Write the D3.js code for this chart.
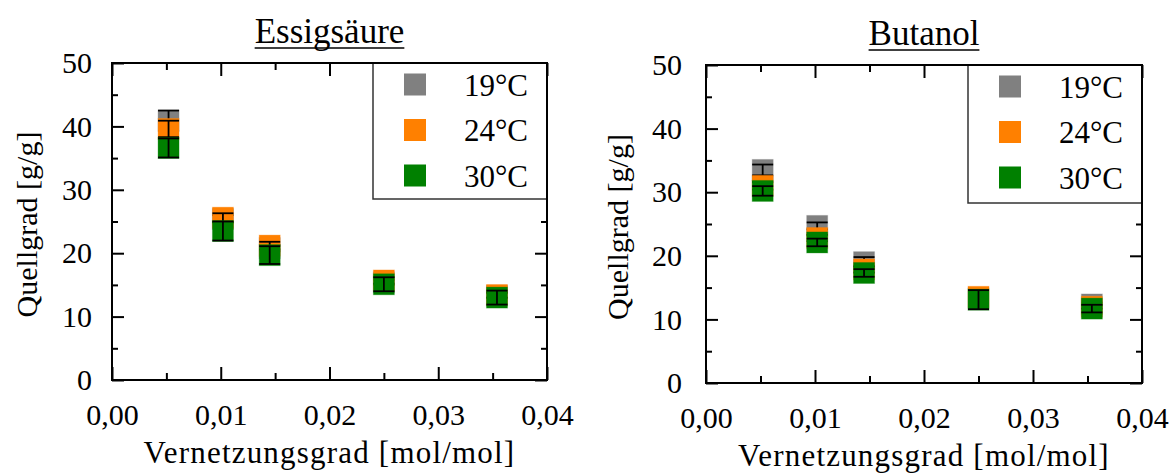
<!DOCTYPE html>
<html lang="de">
<head>
<meta charset="UTF-8">
<title>Quellgrad vs. Vernetzungsgrad</title>
<script src="https://d3js.org/d3.v7.min.js"></script>
<style>
  body { margin: 0; background: #fff; }
  svg, svg text { font-family: "Liberation Serif", "Times New Roman", serif; }
  svg { display: block; }
</style>
</head>
<body>
<svg width="1171" height="473"></svg>
<script>
// crosslink degree per sample (same for both solvents)
const xValues = [0.0052, 0.0102, 0.0145, 0.0250, 0.0354];
const temps = ["19°C", "24°C", "30°C"];
const tempColors = ["#808080", "#ff8000", "#008000"];

// Essigsäure: mean swelling degree [g/g] and error
const essig19 = [40.9, 25.4, 20.8, 15.4, 13.3];
const essig24 = [39.6, 25.6, 21.2, 15.7, 13.4];
const essig30 = [36.6, 23.5, 19.7, 15.1, 13.0];
const essigErr19 = [1.6, 0.6, 0.5, 0.4, 0.4];
const essigErr24 = [1.3, 0.7, 0.6, 0.5, 0.4];
const essigErr30 = [1.5, 1.5, 1.4, 1.1, 1.1];

// Butanol
const butanol19 = [33.5, 24.7, 19.0, 13.3, 12.35];
const butanol24 = [31.0, 22.8, 17.85, 13.55, 12.0];
const butanol30 = [30.2, 22.1, 17.3, 13.1, 11.7];
const butanolErr19 = [0.85, 0.55, 0.8, 0.3, 0.3];
const butanolErr24 = [0.6, 0.5, 0.5, 0.3, 0.3];
const butanolErr30 = [0.75, 0.6, 0.6, 1.5, 0.6];

const yTicks = [0, 10, 20, 30, 40, 50];
const yMinor = [5, 15, 25, 35, 45];
const xTicks = [0, 0.01, 0.02, 0.03, 0.04];
const xMinor = [0.005, 0.015, 0.025, 0.035];

const svg = d3.select("svg");
const fmtX = d => d3.format(".2f")(d).replace(".", ",");
const serif = "'Liberation Serif', 'Times New Roman', serif";

function drawPanel(cfg) {
  const x = d3.scaleLinear().domain([0, 0.04]).range([cfg.x0, cfg.x1]);
  const y = d3.scaleLinear().domain([0, 50]).range([cfg.y1, cfg.y0]);
  const g = svg.append("g");

  // title with underline
  const title = g.append("text")
    .attr("x", (cfg.x0 + cfg.x1) / 2)
    .attr("y", cfg.y0 - 20)
    .attr("text-anchor", "middle")
    .style("font-size", "35px")
    .text(cfg.title);
  const tw = title.node().getComputedTextLength();
  g.append("line")
    .attr("x1", (cfg.x0 + cfg.x1) / 2 - tw / 2)
    .attr("x2", (cfg.x0 + cfg.x1) / 2 + tw / 2)
    .attr("y1", cfg.y0 - 15).attr("y2", cfg.y0 - 15)
    .attr("stroke", "#000").attr("stroke-width", 1.3);

  // axes: ticks pointing inward
  const axes = [
    { ax: d3.axisBottom(x).tickValues(xTicks).tickSize(-13).tickPadding(24).tickFormat(fmtX), t: `translate(0,${cfg.y1})` },
    { ax: d3.axisBottom(x).tickValues(xMinor).tickSize(-7).tickFormat(""), t: `translate(0,${cfg.y1})` },
    { ax: d3.axisTop(x).tickValues(xTicks).tickSize(-13).tickFormat(""), t: `translate(0,${cfg.y0})` },
    { ax: d3.axisTop(x).tickValues(xMinor).tickSize(-7).tickFormat(""), t: `translate(0,${cfg.y0})` },
    { ax: d3.axisLeft(y).tickValues(yTicks).tickSize(-12).tickPadding(cfg.yPad).tickFormat(d3.format("d")), t: `translate(${cfg.x0},0)` },
    { ax: d3.axisLeft(y).tickValues(yMinor).tickSize(-6).tickFormat(""), t: `translate(${cfg.x0},0)` },
    { ax: d3.axisRight(y).tickValues(yTicks).tickSize(-12).tickFormat(""), t: `translate(${cfg.x1},0)` },
    { ax: d3.axisRight(y).tickValues(yMinor).tickSize(-6).tickFormat(""), t: `translate(${cfg.x1},0)` }
  ];
  axes.forEach(a => {
    const ag = g.append("g").attr("transform", a.t).call(a.ax)
      .attr("font-family", serif).attr("font-size", 30);
    ag.select(".domain").remove();
    ag.selectAll("line").attr("stroke", "#000").attr("stroke-width", 2);
    ag.selectAll("text").attr("fill", "#000");
  });

  // data: markers + error bars, series in order
  const half = 10.5;
  cfg.series.forEach((s, i) => {
    const pts = xValues.map((xv, k) => ({ x: xv, y: s.mean[k], e: s.err[k] }));
    const sg = g.append("g");
    sg.selectAll("rect").data(pts).join("rect")
      .attr("x", d => x(d.x) - half)
      .attr("y", d => y(d.y) - half)
      .attr("width", half * 2).attr("height", half * 2)
      .attr("fill", tempColors[i])
      .attr("stroke", tempColors[i]).attr("stroke-opacity", 0.3).attr("stroke-width", 1);
    const eg = sg.selectAll("g.err").data(pts).join("g").attr("class", "err")
      .attr("stroke", "#000").attr("stroke-width", 1.8);
    eg.append("line")
      .attr("x1", d => x(d.x)).attr("x2", d => x(d.x))
      .attr("y1", d => y(d.y + d.e)).attr("y2", d => y(d.y - d.e));
    eg.append("line")
      .attr("x1", d => x(d.x) - half).attr("x2", d => x(d.x) + half)
      .attr("y1", d => y(d.y + d.e)).attr("y2", d => y(d.y + d.e));
    eg.append("line")
      .attr("x1", d => x(d.x) - half).attr("x2", d => x(d.x) + half)
      .attr("y1", d => y(d.y - d.e)).attr("y2", d => y(d.y - d.e));
  });

  // legend box (top right, covers ticks)
  const lw = 174, lh = cfg.legendH;
  const lg = g.append("g").attr("transform", `translate(${cfg.x1 - lw},${cfg.y0})`);
  lg.append("rect").attr("width", lw).attr("height", lh)
    .attr("fill", "#fff").attr("stroke", "#333").attr("stroke-width", 1.5);
  temps.forEach((t, i) => {
    const cy = 21.5 + i * 45.5;
    lg.append("rect")
      .attr("x", 42 - 11).attr("y", cy - 11)
      .attr("width", 22).attr("height", 22)
      .attr("fill", tempColors[i]);
    lg.append("text")
      .attr("x", 155).attr("y", cy + 11)
      .attr("text-anchor", "end")
      .style("font-size", "31px")
      .text(t);
  });

  // frame
  g.append("rect")
    .attr("x", cfg.x0).attr("y", cfg.y0)
    .attr("width", cfg.x1 - cfg.x0).attr("height", cfg.y1 - cfg.y0)
    .attr("fill", "none").attr("stroke", "#000").attr("stroke-width", 2);

  // axis titles
  g.append("text")
    .attr("x", (cfg.x0 + cfg.x1) / 2)
    .attr("y", cfg.xLabY)
    .attr("text-anchor", "middle")
    .style("font-size", "31px")
    .style("letter-spacing", "1.2px")
    .text("Vernetzungsgrad [mol/mol]");
  g.append("text")
    .attr("transform", `translate(${cfg.yLabX},${(cfg.y0 + cfg.y1) / 2 + 3}) rotate(-90)`)
    .attr("text-anchor", "middle")
    .style("font-size", "30px")
    .text("Quellgrad [g/g]");
}

drawPanel({
  title: "Essigsäure",
  x0: 112, x1: 547, y0: 63, y1: 380,
  yPad: 20, yLabX: 37, xLabY: 463, legendH: 136,
  series: [
    { mean: essig19, err: essigErr19 },
    { mean: essig24, err: essigErr24 },
    { mean: essig30, err: essigErr30 }
  ]
});

drawPanel({
  title: "Butanol",
  x0: 706, x1: 1142, y0: 65, y1: 383,
  yPad: 24, yLabX: 628, xLabY: 466, legendH: 138,
  series: [
    { mean: butanol19, err: butanolErr19 },
    { mean: butanol24, err: butanolErr24 },
    { mean: butanol30, err: butanolErr30 }
  ]
});
</script>
</body>
</html>
